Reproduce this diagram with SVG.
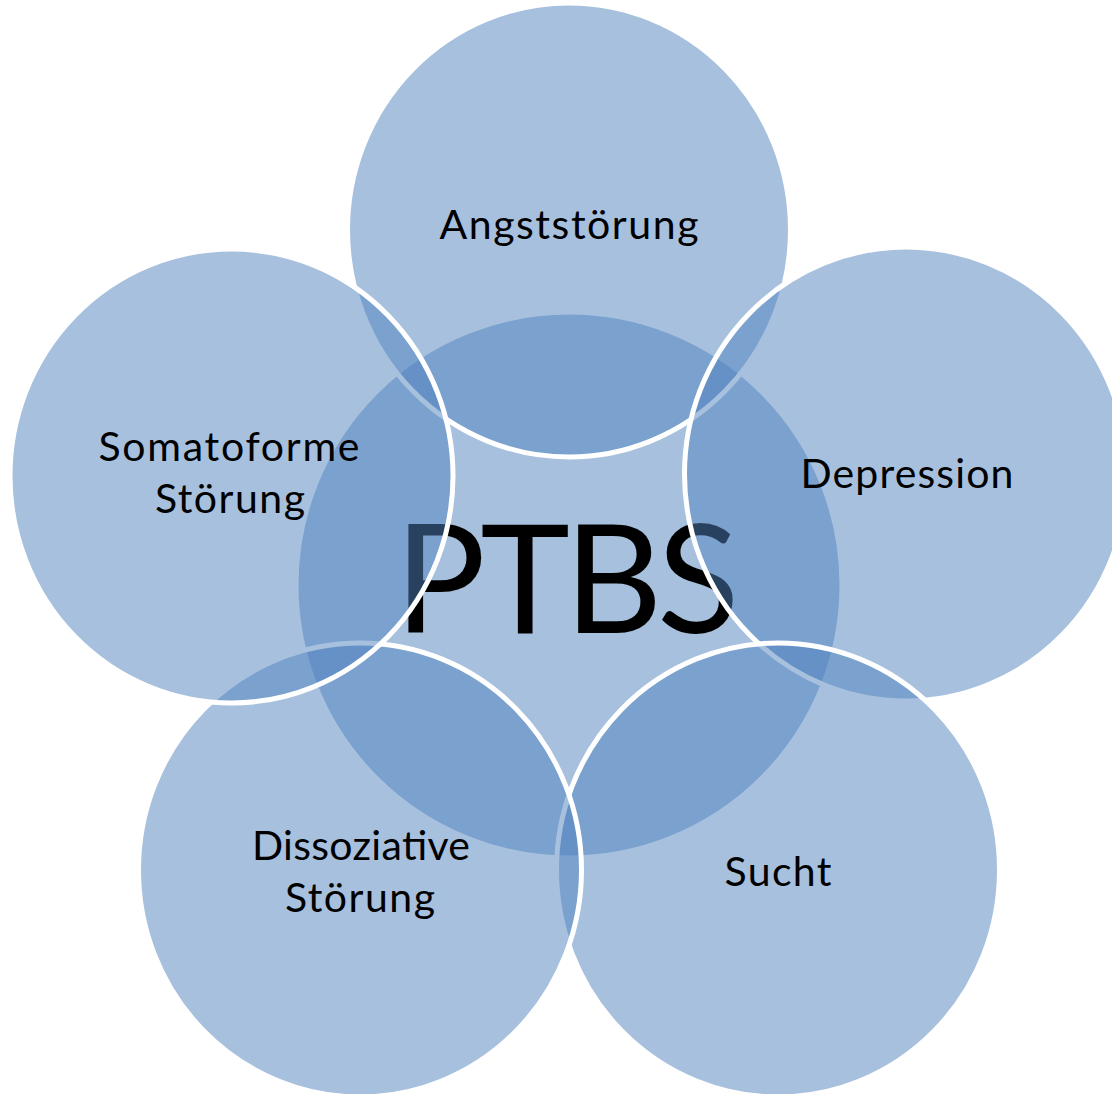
<svg xmlns="http://www.w3.org/2000/svg" width="1112" height="1094" viewBox="0 0 1112 1094">
<style>
.c{fill:#4F81BD;fill-opacity:0.5;stroke:#FFFFFF;stroke-width:5}
.t{font-family:Lato,"Liberation Sans",sans-serif;font-size:41px;fill:#000000;text-anchor:middle}
.big{font-family:Lato,"Liberation Sans",sans-serif;font-size:152px;fill:#000000;text-anchor:middle}
</style>
<rect width="1112" height="1094" fill="#FFFFFF"/>
<g id="ptbs">
<circle class="c" cx="569" cy="585" r="273"/>
<text class="big" x="567" y="633" textLength="345" lengthAdjust="spacing">PTBS</text>
</g>
<g id="angststoerung">
<ellipse class="c" cx="569" cy="230" rx="221.5" ry="227"/>
<text class="t" x="569" y="239" textLength="259" lengthAdjust="spacing">Angststörung</text>
</g>
<g id="depression">
<ellipse class="c" cx="906" cy="474" rx="221.5" ry="227"/>
<text class="t" x="907" y="488" textLength="213" lengthAdjust="spacing">Depression</text>
</g>
<g id="sucht">
<ellipse class="c" cx="778" cy="870" rx="221.5" ry="227"/>
<text class="t" x="778" y="886" textLength="107" lengthAdjust="spacing">Sucht</text>
</g>
<g id="dissoziative">
<ellipse class="c" cx="360" cy="870" rx="221.5" ry="227"/>
<text class="t" x="361" y="860" textLength="218" lengthAdjust="spacing">Dissoziative</text>
<text class="t" x="360" y="912" textLength="150" lengthAdjust="spacing">Störung</text>
</g>
<g id="somatoforme">
<ellipse class="c" cx="231.5" cy="476" rx="221.5" ry="227"/>
<text class="t" x="229" y="461" textLength="261" lengthAdjust="spacing">Somatoforme</text>
<text class="t" x="230" y="513" textLength="150" lengthAdjust="spacing">Störung</text>
</g>
<g id="connectors"/>
</svg>
